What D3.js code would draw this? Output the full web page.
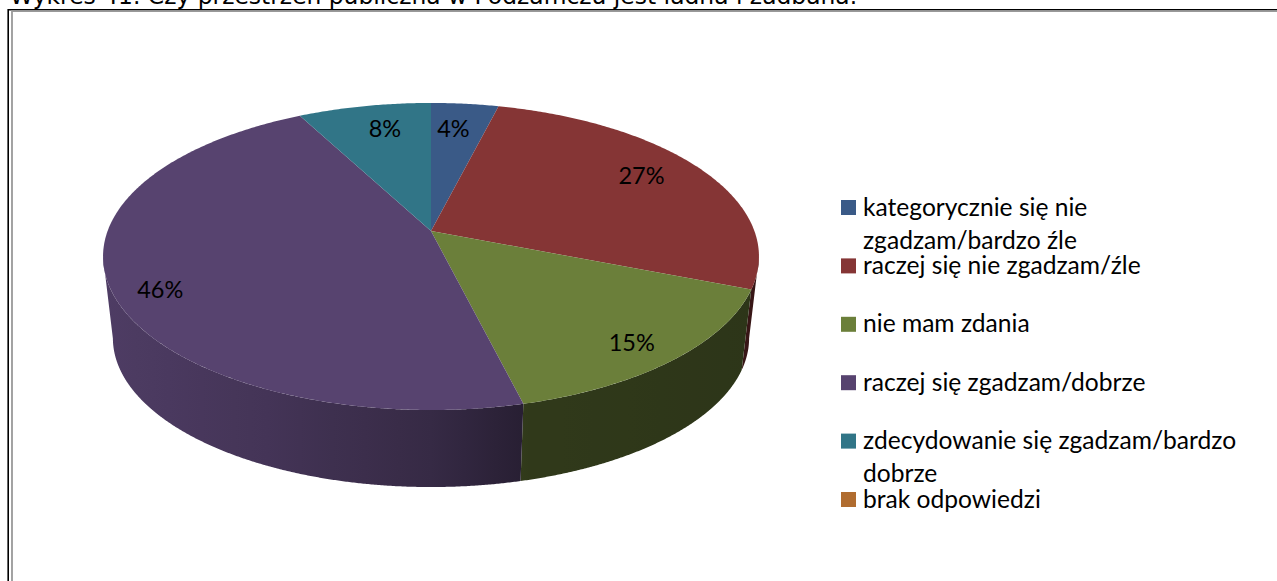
<!DOCTYPE html>
<html>
<head>
    <meta charset="utf-8">
    <title>Wykres 41</title>
    <script src="https://cdn.jsdelivr.net/npm/d3@7"></script>
    <style>
        html, body { margin: 0; padding: 0; background: #fff; overflow: hidden; }
        text { font-family: Lato, "Noto Sans", sans-serif; fill: #000; }
    </style>
</head>
<body>
<script type="text/javascript">
const categories = ["kategorycznie się nie zgadzam/bardzo źle", "raczej się nie zgadzam/źle", "nie mam zdania",
    "raczej się zgadzam/dobrze", "zdecydowanie się zgadzam/bardzo dobrze", "brak odpowiedzi"]
const values = [3.9, 27.1, 15.15, 46.15, 7.7, 0]
const colors = ["#3a5a87", "#853535", "#6b7f3a", "#57436f", "#317587", "#b06c2f"]
const legendLines = [["kategorycznie się nie", "zgadzam/bardzo źle"], ["raczej się nie zgadzam/źle"], ["nie mam zdania"],
    ["raczej się zgadzam/dobrze"], ["zdecydowanie się zgadzam/bardzo", "dobrze"], ["brak odpowiedzi"]]
const title = "Wykres 41. Czy przestrzeń publiczna w Podzamczu jest ładna i zadbana."

const width = 1277, height = 581

const svg = d3.select("body").append("svg")
    .attr("width", width)
    .attr("height", height)
    .style("display", "block")

svg.append("text")
    .attr("x", 10).attr("y", 4)
    .style("font-family", "'DejaVu Sans'")
    .style("font-size", "23.4px")
    .text(title)

// double frame, runs off the right and bottom of the window
svg.append("path").attr("d", "M8.2,581V9.7H1277").attr("fill", "none").attr("stroke", "#000").attr("stroke-width", 1.6)
svg.append("path").attr("d", "M12,581V11.2H1277").attr("fill", "none").attr("stroke", "#999").attr("stroke-width", 1.8)

// perspective: near edge is bigger, so the apex is not the ellipse centre
const cx = 431, k = 0.166, a = 323.4, b = 149.3
const topY = 231, bottomY = 313.4, bottomScale = 0.97

const project = function(angle, y0, s){
    let u = Math.sin(angle), v = -Math.cos(angle), w = 1 - k * v
    return [cx + s * a * u / w, y0 + s * b * v / w]
}
const onTop = angle => project(angle, topY, 1)
const onBottom = angle => project(angle, bottomY, bottomScale)

const pie = d3.pie().sort(null).value(d => d)
const arcs = pie(values).map((d, i) => ({...d, color: colors[i], i: i})).filter(d => d.value > 0)

const shade = d3.scaleLinear()
    .domain([-1, -0.5, 0, 0.3, 1])
    .range([0.9, 0.78, 0.62, 0.45, 0.42])

const sampleAngles = function(d, step){
    let n = Math.max(1, Math.ceil((d.endAngle - d.startAngle) / step))
    return d3.range(n + 1).map(j => d.startAngle + (d.endAngle - d.startAngle) * j / n)
}

// side wall gets a horizontal gradient, one per slice
const defs = svg.append("defs")
const grads = defs.selectAll("linearGradient").data(arcs).join("linearGradient")
    .attr("id", d => "wall" + d.i)
    .attr("gradientUnits", "userSpaceOnUse")
    .attr("x1", cx - 328).attr("x2", cx + 328).attr("y1", 0).attr("y2", 0)
grads.selectAll("stop").data(d => d3.range(-1, 1.01, 0.1).map(u => ({u: u, color: d.color}))).join("stop")
    .attr("offset", s => (s.u + 1) / 2)
    .attr("stop-color", s => {
        let c = d3.rgb(s.color), f = shade(s.u)
        return d3.rgb(c.r * f, c.g * f, c.b * f).formatHex()
    })

// rim only down to the silhouette (v = k), past that it folds back and the fill cancels
const frontAngles = d => sampleAngles(d, Math.PI / 720).filter(t => -Math.cos(t) >= k)

svg.append("g").selectAll("path").data(arcs.filter(d => frontAngles(d).length > 1)).join("path")
    .attr("d", d => {
        let as = frontAngles(d)
        return d3.line()([...as.map(onTop), ...as.slice().reverse().map(onBottom)]) + "Z"
    })
    .attr("fill", d => "url(#wall" + d.i + ")")

// top face
svg.append("g").selectAll("path").data(arcs).join("path")
    .attr("d", d => d3.line()([[cx, topY], ...sampleAngles(d, Math.PI / 360).map(onTop)]) + "Z")
    .attr("fill", d => d.color)

// data labels sit on the top face, nudged by hand off the radial spot
const labelR = [0.78, 0.72, 0.76, 0.88, 0.75]
const labelNudge = [[-4, -3], [18, -9], [16, 14], [12, 9], [4, -8]]
svg.append("g").selectAll("text").data(arcs).join("text")
    .attr("text-anchor", "middle")
    .style("font-size", "23.5px")
    .each(function(d, i){
        let m = (d.startAngle + d.endAngle) / 2, p = project(m, topY, labelR[i])
        d3.select(this).attr("x", p[0] + labelNudge[i][0]).attr("y", p[1] + 8 + labelNudge[i][1])
    })
    .text(d => Math.round(d.value) + "%")

// legend
const legendY = d3.scalePoint().domain(d3.range(categories.length)).range([207.5, 499.5])
const legend = svg.append("g").selectAll("g").data(categories).join("g")
    .attr("transform", (d, i) => "translate(841," + legendY(i) + ")")
legend.append("rect").attr("y", -7.5).attr("width", 15).attr("height", 15).attr("fill", (d, i) => colors[i])
legend.selectAll("text").data((d, i) => legendLines[i]).join("text")
    .attr("x", 22)
    .attr("y", (d, j) => 8 + j * 33)
    .style("font-size", "24.6px")
    .text(d => d)
</script>
</body>
</html>
